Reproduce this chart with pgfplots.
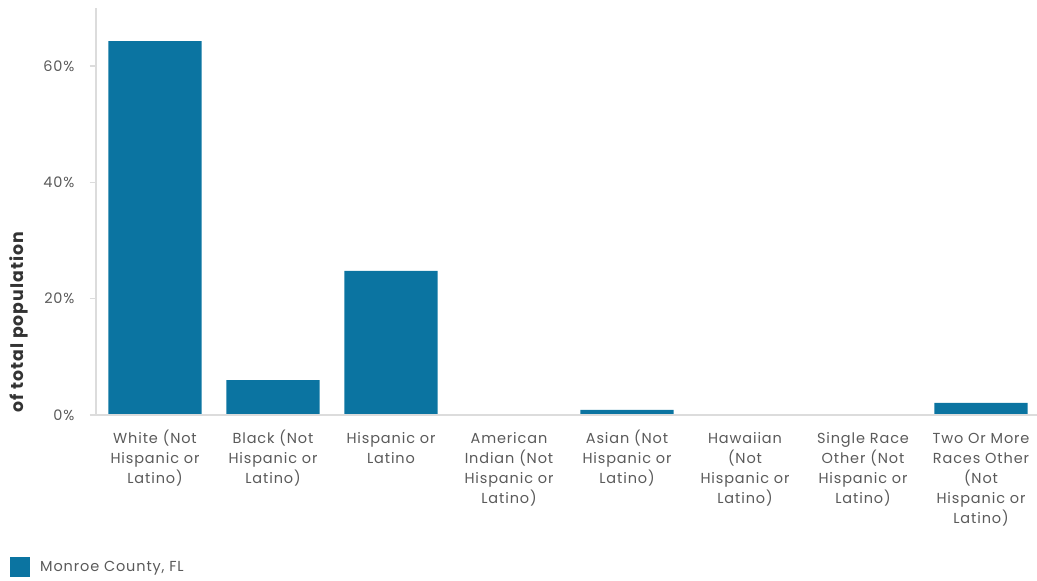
\documentclass[border=0pt]{standalone}
\usepackage{pgfplots}
\pgfplotsset{compat=1.18}
\usepackage{fontspec}
\setmainfont[LetterSpace=6]{Poppins}
\definecolor{barblue}{HTML}{0B74A1}
\definecolor{txtgray}{HTML}{5A5A5A}
\definecolor{axgray}{HTML}{DCDCDC}
\begin{document}
\begin{tikzpicture}
\useasboundingbox (-96pt,-166pt) rectangle (941pt,415pt);
\begin{axis}[
  at={(0,0)}, anchor=south west,
  scale only axis,
  width=944pt, height=407pt,
  xmin=-0.5, xmax=7.5,
  ymin=0, ymax=70,
  axis lines=left,
  axis on top,
  axis line style={axgray, line width=1.5pt, -},
  ytick={0,20,40,60},
  yticklabels={0\%,20\%,40\%,60\%},
  tick align=outside,
  major tick length=6pt,
  ytick style={axgray, line width=1.5pt},
  xtick={0,...,7},
  xtick style={draw=none},
  xticklabels={
    \strut White (Not\\Hispanic or\\Latino),
    \strut Black (Not\\Hispanic or\\Latino),
    \strut Hispanic or\\Latino,
    \strut American\\Indian (Not\\Hispanic or\\Latino),
    \strut Asian (Not\\Hispanic or\\Latino),
    \strut Hawaiian\\(Not\\Hispanic or\\Latino),
    \strut Single Race\\Other (Not\\Hispanic or\\Latino),
    \strut Two Or More\\Races Other\\(Not\\Hispanic or\\Latino)},
  xticklabel style={align=center, text width=115pt, font=\fontsize{14.5}{20}\selectfont, text=txtgray, anchor=north, yshift=-5pt},
  yticklabel style={font=\fontsize{14.5}{16}\selectfont, text=txtgray, xshift=-12pt},
  ylabel={of total population},
  ylabel style={at={(axis description cs:-0.0816,0.228)}, anchor=center, font=\bfseries\fontsize{17.3}{20}\selectfont, text=black!80},
  ybar, bar width=0.79,
  legend style={at={(axis description cs:-0.0911,-0.3735)}, anchor=west, draw=none, fill=none,
     font=\fontsize{14.5}{16}\selectfont, text=txtgray, inner sep=0pt},
  legend image code/.code={\fill[barblue] (0pt,-10pt) rectangle (20pt,10pt);},
  clip=false,
]
\addplot[fill=barblue, draw=none] coordinates {
  (0,64.3) (1,6.0) (2,24.8) (3,0.1) (4,0.9) (5,0.02) (6,0.1) (7,2.1)
};
\addlegendentry{\hspace{8pt}Monroe County, FL}
\end{axis}
\end{tikzpicture}
\end{document}
